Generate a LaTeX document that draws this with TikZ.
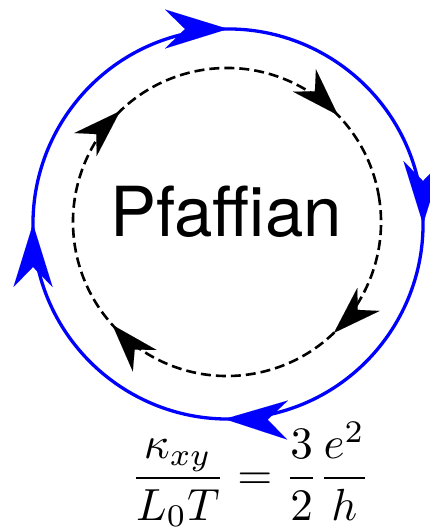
\documentclass[tikz,border=0pt]{standalone}
\usepackage{fontspec}
\usepackage{graphicx}
\usetikzlibrary{decorations.markings,arrows.meta}
\newfontfamily\heros{TeX Gyre Heros}
\definecolor{edgeblue}{RGB}{0,0,255}
\newcommand{\bluearrow}{\arrow{Stealth[length=63pt,width=39pt,inset=20pt,line width=0.01pt]}}
\newcommand{\blackarrow}{\pgfsetdash{}{0pt}\arrow{Stealth[length=48pt,width=32pt,inset=15pt,line width=0.01pt]}}
\begin{document}
\begin{tikzpicture}[x=1pt,y=1pt,
  outerloop/.style={draw=edgeblue, line width=3.3pt, postaction={decorate},
    decoration={markings,
      mark=at position 0.0278 with {\bluearrow},
      mark=at position 0.2806 with {\bluearrow},
      mark=at position 0.5278 with {\bluearrow},
      mark=at position 0.7778 with {\bluearrow}}},
  innerloop/.style={draw=black, line width=2.6pt, dash pattern=on 10pt off 5pt, postaction={decorate},
    decoration={markings,
      mark=at position 0.1556 with {\blackarrow},
      mark=at position 0.4111 with {\blackarrow},
      mark=at position 0.6556 with {\blackarrow},
      mark=at position 0.9056 with {\blackarrow}}},
  label/.style={inner sep=0pt, anchor=base}]
\useasboundingbox (0,0) rectangle (429,529);
\coordinate (bc) at (228,305);
\coordinate (dc) at (227,307);
\path[outerloop] (bc) ++(10:195) arc[start angle=10, end angle=-350, radius=195];
\path[innerloop] (dc) ++(10:154) arc[start angle=10, end angle=-350, radius=154];
\node[label] (pf) at (226,292) {\fontsize{69}{80}\selectfont\heros Pfaffian};
\node[label] (eq) at (250.5,39.75) {\scalebox{4.5}{$\displaystyle\frac{\kappa_{xy}}{L_0T}=\frac{3}{2}\frac{e^2}{h}$}};
\end{tikzpicture}
\end{document}
